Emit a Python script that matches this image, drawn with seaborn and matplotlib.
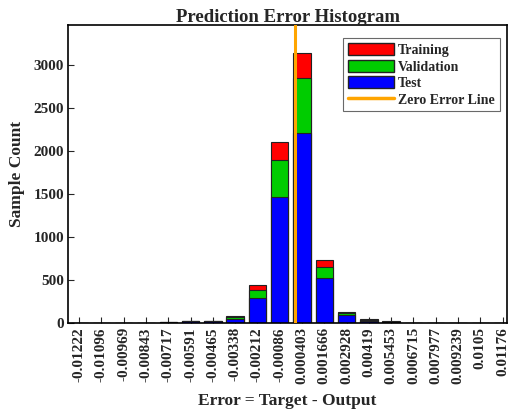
import numpy as np
import pandas as pd
import matplotlib
matplotlib.use("Agg")
import matplotlib.pyplot as plt
import seaborn as sns
from matplotlib.patches import Patch
from matplotlib.lines import Line2D

bin_labels = ['-0.01222', '-0.01096', '-0.00969', '-0.00843', '-0.00717', '-0.00591',
              '-0.00465', '-0.00338', '-0.00212', '-0.00086', '0.000403', '0.001666',
              '0.002928', '0.00419', '0.005453', '0.006715', '0.007977', '0.009239',
              '0.0105', '0.01176']
bin_centers = [float(s) for s in bin_labels]
test = [0, 0, 0, 0, 6, 18, 18, 50, 295, 1465, 2219, 525, 95, 27, 12, 0, 0, 0, 0, 0]
validation = [0, 0, 0, 0, 2, 5, 5, 16, 86, 431, 633, 128, 17, 8, 4, 0, 0, 0, 0, 0]
training = [0, 0, 0, 0, 2, 4, 4, 19, 58, 214, 296, 85, 20, 12, 3, 0, 0, 0, 0, 0]
y_ticks = [0, 500, 1000, 1500, 2000, 2500, 3000]

sns.set_style("white")
plt.rcParams['font.family'] = ['Liberation Serif', 'DejaVu Serif']
plt.rcParams['font.weight'] = 'bold'

df = pd.DataFrame({'bin': bin_labels, 'test': test, 'val': validation, 'train': training})
df['tv'] = df['test'] + df['val']
df['all'] = df['tv'] + df['train']

fig = plt.figure(figsize=(5.08, 4.12), dpi=100)
ax = fig.add_axes([0.134, 0.216, 0.864, 0.723])

kw = dict(ax=ax, width=0.78, edgecolor='#222222', linewidth=0.8, saturation=1)
sns.barplot(data=df, x='bin', y='all', color='#ff0000', **kw)
sns.barplot(data=df, x='bin', y='tv', color='#00cc00', **kw)
sns.barplot(data=df, x='bin', y='test', color='#0000ff', **kw)

zero_pos = np.interp(0.0, bin_centers, np.arange(len(bin_centers)))
ax.axvline(zero_pos, color='#ffa500', linewidth=2.2, zorder=5)

ax.set_xlim(-0.5, 19.2)
ax.set_ylim(0, 3470)
ax.set_yticks(y_ticks)
ax.set_yticklabels([str(v) for v in y_ticks], fontsize=11, fontweight='bold')
ax.set_xticks(range(len(bin_labels)))
ax.set_xticklabels(bin_labels, rotation=90, fontsize=11, fontweight='bold')
ax.tick_params(direction='in', length=4, width=0.8, bottom=True, left=True, pad=3)

for s in ax.spines.values():
    s.set_visible(True)
    s.set_color('black')
    s.set_linewidth(1.2)

ax.set_title('Prediction Error Histogram', fontsize=13.5, fontweight='bold', pad=2)
ax.set_xlabel('Error = Target - Output', fontsize=12.5, fontweight='bold', labelpad=6)
ax.set_ylabel('Sample Count', fontsize=12.5, fontweight='bold', labelpad=6)

handles = [Patch(facecolor='#ff0000', edgecolor='#222222', label='Training'),
           Patch(facecolor='#00cc00', edgecolor='#222222', label='Validation'),
           Patch(facecolor='#0000ff', edgecolor='#222222', label='Test'),
           Line2D([0], [0], color='#ffa500', linewidth=2.5, label='Zero Error Line')]
leg = ax.legend(handles=handles, loc='upper right', bbox_to_anchor=(0.99, 0.965),
                frameon=True, fancybox=False, edgecolor='#444444',
                handlelength=3.3, handleheight=0.95, handletextpad=0.3,
                labelspacing=0.2, borderpad=0.35, borderaxespad=0.2,
                prop={'weight': 'bold', 'size': 10})
leg.get_frame().set_linewidth(0.8)

fig.savefig('out.png', dpi=100)
